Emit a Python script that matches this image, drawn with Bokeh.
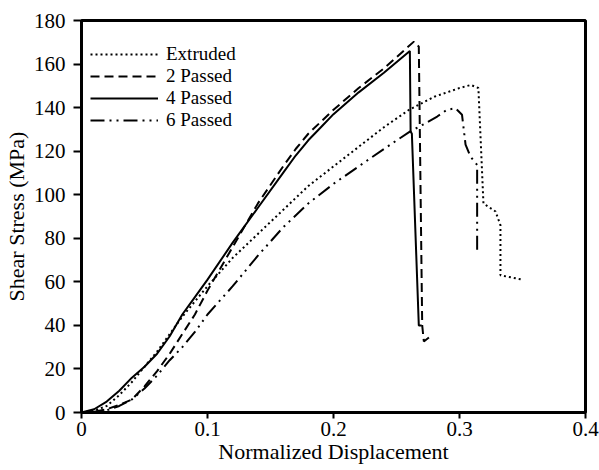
from bokeh.plotting import figure
from bokeh.models import FixedTicker, Legend, LegendItem
from bokeh.embed import file_html
from bokeh.resources import INLINE

# Data
ext_x = [0, 0.01, 0.02, 0.03, 0.04, 0.05, 0.06, 0.07, 0.08, 0.09, 0.10, 0.12, 0.14, 0.16, 0.18, 0.20,
         0.22, 0.24, 0.26, 0.28, 0.30, 0.309, 0.315, 0.319, 0.3286, 0.3325, 0.3325, 0.35]
ext_y = [0, 0.8, 3, 8, 14, 21, 28, 36, 44, 51, 58, 71, 82, 93, 104, 113,
         122, 131, 139, 145, 149, 150.4, 149, 96, 92.3, 86, 63, 61]

p2_x = [0, 0.01, 0.02, 0.03, 0.04, 0.05, 0.06, 0.07, 0.08, 0.09, 0.10, 0.12, 0.14, 0.16, 0.17, 0.18, 0.20,
        0.22, 0.24, 0.2638, 0.2677, 0.2704, 0.2717, 0.277]
p2_y = [0, 0.3, 1.5, 3.5, 6, 12, 19, 27, 36, 45, 56, 76, 96, 113, 121, 128, 139,
        149, 158, 170.3, 168, 40, 32.6, 35]

p4_x = [0, 0.01, 0.02, 0.03, 0.04, 0.05, 0.06, 0.07, 0.08, 0.09, 0.10, 0.12, 0.14, 0.16, 0.17, 0.18, 0.19, 0.20,
        0.22, 0.24, 0.2606, 0.2612, 0.2622, 0.2677, 0.2700]
p4_y = [0, 1.5, 5, 10, 16, 21, 27, 35, 45, 53, 61, 78, 94, 110, 118, 125, 131, 137,
        147, 156, 166, 129, 128, 40, 40]

p6_x = [0, 0.01, 0.02, 0.03, 0.04, 0.05, 0.06, 0.07, 0.08, 0.09, 0.10, 0.12, 0.14, 0.16, 0.18, 0.20,
        0.22, 0.24, 0.2606, 0.2717, 0.2823, 0.29, 0.2968, 0.302, 0.3048, 0.3087, 0.314, 0.314]
p6_y = [0, 0.3, 1, 3, 6, 11, 17, 24, 30, 37, 45, 58, 72, 85, 96, 105,
        113, 121, 129, 132.4, 135.9, 139, 139.7, 136.7, 123, 117.5, 113.7, 72.4]

x_ticks = [0, 0.1, 0.2, 0.3, 0.4]
x_labels = ["0", "0.1", "0.2", "0.3", "0.4"]
y_ticks = [0, 20, 40, 60, 80, 100, 120, 140, 160, 180]

FONT = "Liberation Serif"

p = figure(width=599, height=470, x_range=(0, 0.4), y_range=(0, 180),
           output_backend="svg", toolbar_location=None,
           min_border_left=81, min_border_right=14, min_border_top=20, min_border_bottom=58)
p.xgrid.visible = False
p.ygrid.visible = False
p.outline_line_color = "black"
p.outline_line_width = 3
p.outline_line_alpha = 1

r1 = p.line(ext_x, ext_y, line_color="black", line_width=2, line_dash="2 3")
r2 = p.line(p2_x, p2_y, line_color="black", line_width=2, line_dash="9 5")
r3 = p.line(p4_x, p4_y, line_color="black", line_width=2)
r4 = p.line(p6_x, p6_y, line_color="black", line_width=2, line_dash="14 5 2 5 2 5")

for ax in (p.xaxis[0], p.yaxis[0]):
    ax.axis_line_width = 3
    ax.axis_line_color = "black"
    ax.major_tick_line_width = 2
    ax.major_tick_in = 0
    ax.minor_tick_line_color = None
    ax.major_label_text_font = FONT
    ax.major_label_text_font_size = "21px"
    ax.major_label_text_color = "black"
    ax.axis_label_text_font = FONT
    ax.axis_label_text_font_size = "22px"
    ax.axis_label_text_font_style = "normal"
    ax.axis_label_text_color = "black"

p.xaxis.major_tick_out = 6
p.yaxis.major_tick_out = 8
p.xaxis.ticker = FixedTicker(ticks=x_ticks)
p.xaxis.major_label_overrides = {t: l for t, l in zip(x_ticks, x_labels)}
p.yaxis.ticker = FixedTicker(ticks=y_ticks)
p.xaxis.axis_label = "Normalized Displacement"
p.yaxis.axis_label = "Shear Stress (MPa)"
p.xaxis.major_label_standoff = 3
p.xaxis.axis_label_standoff = 0
p.yaxis.major_label_standoff = 8
p.yaxis.axis_label_standoff = 2

legend = Legend(items=[
    LegendItem(label="Extruded", renderers=[r1]),
    LegendItem(label="2 Passed", renderers=[r2]),
    LegendItem(label="4 Passed", renderers=[r3]),
    LegendItem(label="6 Passed", renderers=[r4]),
], location=(9, 281))
legend.glyph_width = 68
legend.glyph_height = 20
legend.label_height = 20
legend.spacing = 0
legend.padding = 9
legend.margin = 0
legend.label_standoff = 8
legend.label_text_font = FONT
legend.label_text_font_size = "19px"
legend.label_text_color = "black"
legend.border_line_color = None
legend.background_fill_alpha = 0
p.add_layout(legend)

open("out.html", "w").write(file_html(p, INLINE))
